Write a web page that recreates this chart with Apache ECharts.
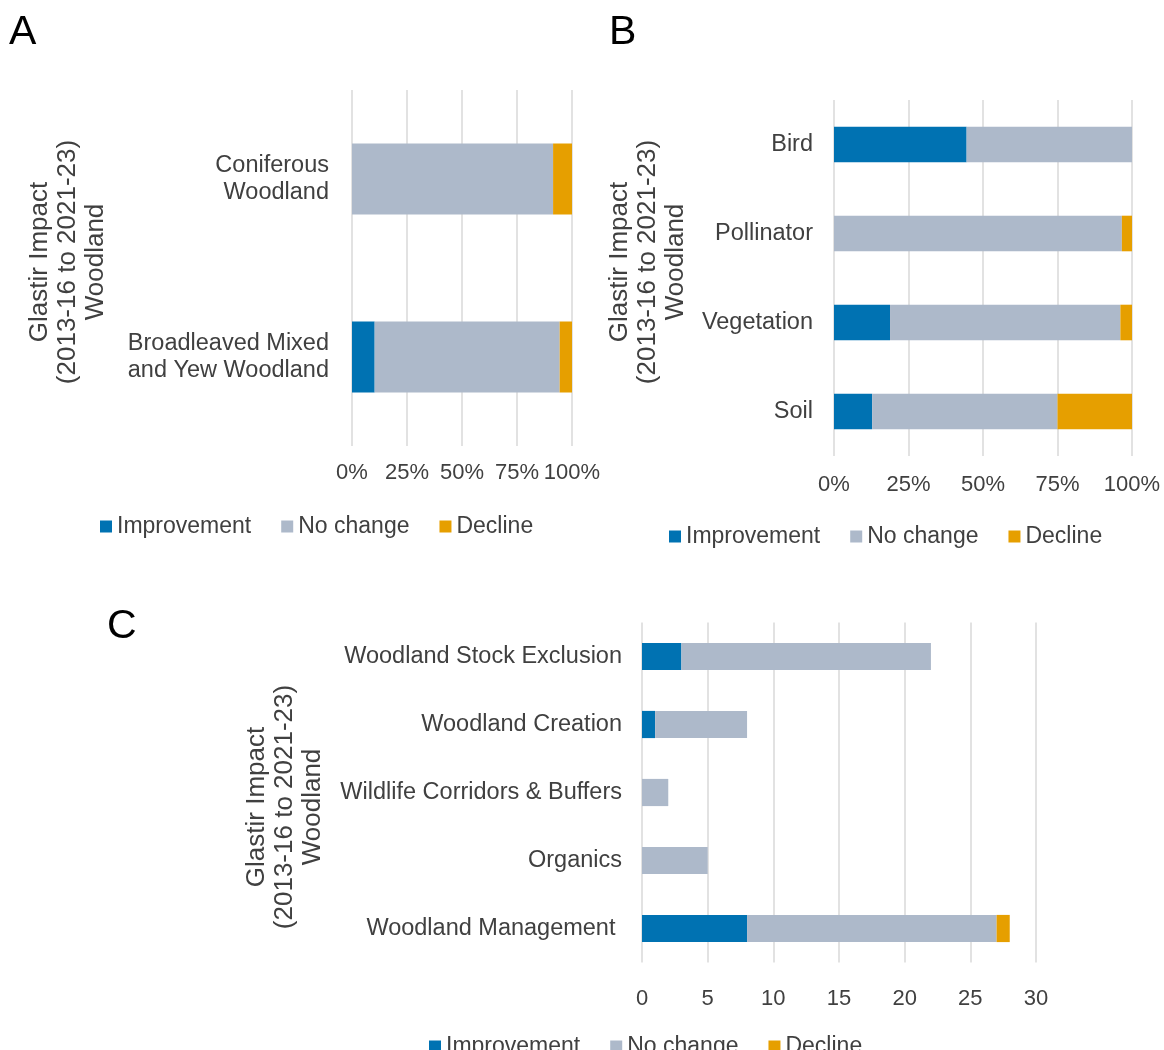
<!DOCTYPE html>
<html>
<head>
<meta charset="utf-8">
<script src="https://cdn.jsdelivr.net/npm/echarts@6/dist/echarts.min.js"></script>
<style>
html,body{margin:0;padding:0;background:#fff;}
#main{width:1164px;height:1050px;}
</style>
</head>
<body>
<div id="main"></div>
<script>
// ---- Data ----
const seriesNames = ['Improvement', 'No change', 'Decline'];
const colors = ['#0072B2', '#ADB9CA', '#E69F00'];

// Panel A (percent)
const catsA = ['Coniferous\nWoodland', 'Broadleaved Mixed\nand Yew Woodland'];
const improveA = [0, 10.3];
const noChangeA = [91.4, 84.1];
const declineA = [8.6, 5.6];

// Panel B (percent)
const catsB = ['Bird', 'Pollinator', 'Vegetation', 'Soil'];
const improveB = [44.5, 0, 18.8, 12.8];
const noChangeB = [55.5, 96.6, 77.3, 62.2];
const declineB = [0, 3.4, 3.9, 25.0];

// Panel C (counts)
const catsC = ['Woodland Stock Exclusion', 'Woodland Creation', 'Wildlife Corridors & Buffers', 'Organics', 'Woodland Management '];
const improveC = [3, 1, 0, 0, 8];
const noChangeC = [19, 7, 2, 5, 19];
const declineC = [0, 0, 0, 0, 1];

// ---- Styling ----
const FONT = 'Liberation Sans, Arial, sans-serif';
const TXT = '#404040';
const GRIDC = '#D9D9D9';

function xAxisPct(gi, margin) {
  return {
    type: 'value', gridIndex: gi, min: 0, max: 100, interval: 25,
    axisLine: {show: false}, axisTick: {show: false},
    splitLine: {lineStyle: {color: GRIDC, width: 1.5}},
    axisLabel: {formatter: '{value}%', fontSize: 22, color: TXT, fontFamily: FONT, margin: margin}
  };
}
function yAxisCat(gi, cats, margin) {
  return {
    type: 'category', gridIndex: gi, data: cats, inverse: true,
    axisLine: {show: false}, axisTick: {show: false}, splitLine: {show: false},
    axisLabel: {fontSize: 23.5, color: TXT, fontFamily: FONT, margin: margin, lineHeight: 27, align: 'right'}
  };
}
function bars(gi, vals) {
  return vals.map((v, i) => ({
    name: seriesNames[i], type: 'bar', stack: 'p' + gi,
    xAxisIndex: gi, yAxisIndex: gi, data: v,
    barCategoryGap: '60%',
    itemStyle: {color: colors[i]},
    emphasis: {disabled: true}
  }));
}
function legend(left, top) {
  return {
    data: seriesNames, left: left, top: top, icon: 'rect',
    itemWidth: 12, itemHeight: 12, itemGap: 30, selectedMode: false,
    textStyle: {fontSize: 23, color: TXT, fontFamily: FONT}
  };
}
function axisTitle(x, y) {
  return {
    type: 'text', x: x, y: y, rotation: Math.PI / 2,
    style: {
      text: 'Glastir Impact\n(2013-16 to 2021-23)\nWoodland',
      fontSize: 26, fontFamily: FONT, fill: TXT,
      align: 'center', verticalAlign: 'middle', lineHeight: 28
    }
  };
}
function letter(t, x, y) {
  return {
    type: 'text', x: x, y: y,
    style: {text: t, fontSize: 41, fontFamily: FONT, fill: '#000', align: 'left', verticalAlign: 'middle'}
  };
}

const chart = echarts.init(document.getElementById('main'), null, {renderer: 'canvas'});
chart.setOption({
  animation: false,
  backgroundColor: '#fff',
  grid: [
    {left: 352, width: 220, top: 90, height: 356},
    {left: 834, width: 298, top: 100, height: 356},
    {left: 642, width: 394, top: 622.5, height: 340}
  ],
  xAxis: [
    xAxisPct(0, 16),
    xAxisPct(1, 18),
    {
      type: 'value', gridIndex: 2, min: 0, max: 30, interval: 5,
      axisLine: {show: false}, axisTick: {show: false},
      splitLine: {lineStyle: {color: GRIDC, width: 1.5}},
      axisLabel: {fontSize: 22, color: TXT, fontFamily: FONT, margin: 25}
    }
  ],
  yAxis: [
    yAxisCat(0, catsA, 23),
    yAxisCat(1, catsB, 21),
    yAxisCat(2, catsC, 20)
  ],
  legend: [legend(95, 510), legend(664, 520), legend(424, 1030)],
  series: [].concat(
    bars(0, [improveA, noChangeA, declineA]),
    bars(1, [improveB, noChangeB, declineB]),
    bars(2, [improveC, noChangeC, declineC])
  ),
  graphic: [
    letter('A', 9, 33),
    letter('B', 609, 33),
    letter('C', 107, 627),
    axisTitle(68, 262),
    axisTitle(648, 262),
    axisTitle(285, 807)
  ]
});
</script>
</body>
</html>
